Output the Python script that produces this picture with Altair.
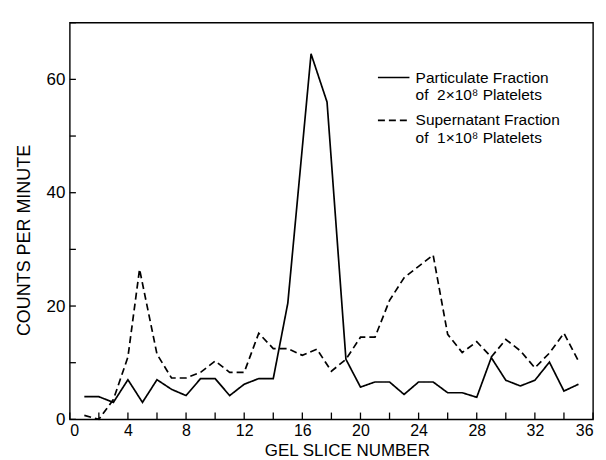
import altair as alt
import pandas as pd

# Particulate fraction (solid line)
slice_particulate = [1, 2, 3, 4, 5, 6, 7, 8, 9, 10, 11, 12, 13, 14, 15, 16.6, 17.7,
                     19, 20, 21, 22, 23, 24, 25, 26, 27, 28, 29, 30, 31, 32, 33, 34, 35]
counts_particulate = [4, 4, 3, 7, 3, 7, 5.3, 4.2, 7.2, 7.2, 4.2, 6.2, 7.2, 7.2, 20.5, 64.5, 56,
                      10.6, 5.7, 6.6, 6.6, 4.4, 6.6, 6.6, 4.7, 4.7, 3.9, 10.9, 6.9, 5.9, 6.9, 10.1, 5.0, 6.2]

# Supernatant fraction (dashed line)
slice_supernatant = [1, 2, 3, 4, 4.8, 6, 7, 8, 9, 10, 11, 12, 13, 14, 15, 16, 17, 18,
                     19, 20, 21, 22, 23, 24, 25, 26, 27, 28, 29, 30, 31, 32, 33, 34, 35]
counts_supernatant = [0.7, 0, 3.5, 11, 26.5, 11.5, 7.3, 7.3, 8.3, 10.3, 8.3, 8.3, 15.2, 12.5, 12.5, 11.3, 12.4, 8.5,
                      10.6, 14.5, 14.5, 21, 25, 27, 29, 15, 11.8, 13.7, 11, 14.1, 12.1, 9.1, 11.7, 15.2, 10.3]

series_names = ["Particulate Fraction|of\u00a0\u00a02×10⁸ Platelets",
                "Supernatant Fraction|of\u00a0\u00a01×10⁸ Platelets"]

x_tick_marks = list(range(0, 37, 2))
y_tick_marks = list(range(0, 71, 10))
x_label_values = list(range(0, 37, 4))
y_label_values = [0, 20, 40, 60]

FONT = "Liberation Sans"

df = pd.concat([
    pd.DataFrame({"slice": slice_particulate, "cpm": counts_particulate, "series": series_names[0]}),
    pd.DataFrame({"slice": slice_supernatant, "cpm": counts_supernatant, "series": series_names[1]}),
], ignore_index=True)

xscale = alt.Scale(domain=[0, 36], nice=False, zero=False)
yscale = alt.Scale(domain=[0, 70], nice=False)

xaxis = alt.Axis(values=x_label_values, title="GEL SLICE NUMBER",
                 titleX=278, titleY=36, titleBaseline="alphabetic",
                 titleFontSize=17, labelPadding=3, labelFontSize=16,
                 domain=False, ticks=False, tickSize=0, grid=False)
yaxis = alt.Axis(values=y_label_values, title="COUNTS PER MINUTE",
                 titleX=-45, titleY=218, titleBaseline="middle", titleAngle=270,
                 titleFontSize=18, labelPadding=5, labelFontSize=17,
                 domain=False, ticks=False, tickSize=0, grid=False)

lines = alt.Chart(df).mark_line(color="black", strokeWidth=1.7).encode(
    x=alt.X("slice:Q", scale=xscale, axis=xaxis),
    y=alt.Y("cpm:Q", scale=yscale, axis=yaxis),
    strokeDash=alt.StrokeDash(
        "series:N",
        scale=alt.Scale(domain=series_names, range=[[1, 0], [7, 4]]),
        legend=alt.Legend(orient="none", legendX=308, legendY=38, title=None,
                          symbolType="stroke", symbolSize=1000, symbolStrokeWidth=1.6,
                          symbolStrokeColor="black",
                          labelExpr="split(datum.label, '|')",
                          labelFont=FONT, labelFontSize=15.5, labelLimit=400,
                          labelOffset=5, labelColor="black",
                          rowPadding=0),
    ),
)

xt = alt.Chart(pd.DataFrame({"slice": x_tick_marks})).mark_rule(color="black", strokeWidth=1.3).encode(
    x=alt.X("slice:Q", scale=xscale, axis=xaxis),
    y=alt.datum(0),
    y2=alt.datum(1.2),
)

yt = alt.Chart(pd.DataFrame({"cpm": y_tick_marks})).mark_rule(color="black", strokeWidth=1.3).encode(
    y=alt.Y("cpm:Q", scale=yscale, axis=yaxis),
    x=alt.datum(0),
    x2=alt.datum(0.42),
)

chart = alt.layer(lines, xt, yt).properties(
    width=525, height=398,
    autosize=alt.AutoSizeParams(type="none"),
    padding={"left": 62, "top": 14, "right": 5, "bottom": 40},
    background="white",
).configure_view(
    stroke="black", strokeWidth=1.4
).configure_axis(
    labelFont=FONT, labelColor="black",
    titleFont=FONT, titleFontWeight="normal", titleColor="black",
)

chart.save("out.html", embed_options={"renderer": "svg", "actions": False})
